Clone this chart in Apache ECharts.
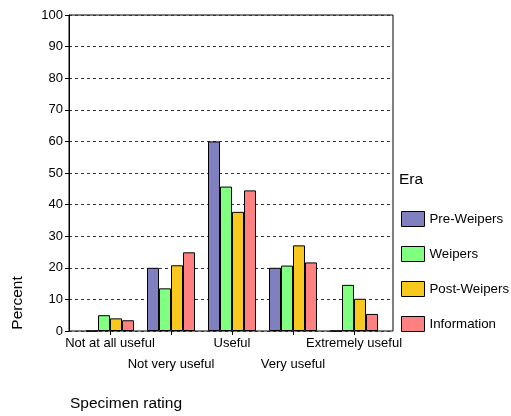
<!DOCTYPE html>
<html><head><meta charset="utf-8">
<script src="https://cdn.jsdelivr.net/npm/echarts@6/dist/echarts.min.js"></script>
<style>html,body{margin:0;padding:0;background:#fff}#c{width:511px;height:416px}</style>
</head><body><div id="c"></div>
<script>
var categories = ['Not at all useful', 'Not very useful', 'Useful', 'Very useful', 'Extremely useful'];
var preWeipers = [0, 20, 60, 20, 0];
var weipers = [5, 13.5, 45.7, 20.7, 14.6];
var postWeipers = [4, 20.8, 37.7, 27.1, 10.2];
var information = [3.4, 24.9, 44.5, 21.7, 5.4];
var yTicks = [0, 10, 20, 30, 40, 50, 60, 70, 80, 90, 100];
var seriesNames = ['Pre-Weipers', 'Weipers', 'Post-Weipers', 'Information'];
var seriesData = [preWeipers, weipers, postWeipers, information];
var colors = ['#8080c0', '#80ff80', '#f9c81e', '#ff8080'];

var FONT = 'Liberation Sans, Arial, sans-serif';
var chart = echarts.init(document.getElementById('c'), null, {renderer: 'canvas'});
chart.setOption({
  animation: false,
  textStyle: {fontFamily: FONT},
  grid: [
    {left: 69, top: 15, width: 324, height: 316, show: true, borderColor: '#000', borderWidth: 1, backgroundColor: 'transparent'},
    {left: 79.5, top: 15, width: 305, height: 316}
  ],
  xAxis: [
    {gridIndex: 0, type: 'value', min: 0, max: 1, axisLine: {show: false}, axisTick: {show: false}, axisLabel: {show: false}, splitLine: {show: false}},
    {gridIndex: 1, type: 'category', data: categories, axisLine: {show: false},
     axisTick: {show: true, alignWithLabel: true, length: 4, lineStyle: {color: '#000'}},
     axisLabel: {interval: 0, margin: 2, lineHeight: 21, fontSize: 13, color: '#000', fontFamily: FONT,
       formatter: function (v, i) { return i % 2 ? '\n' + v : v; }},
     splitLine: {show: false}}
  ],
  yAxis: [
    {gridIndex: 0, type: 'value', min: yTicks[0], max: yTicks[yTicks.length - 1], interval: 10,
     axisLine: {show: true, lineStyle: {color: '#000'}},
     axisTick: {show: true, length: 4, lineStyle: {color: '#000'}},
     axisLabel: {fontSize: 13, color: '#000', margin: 6, fontFamily: FONT},
     splitLine: {show: true, lineStyle: {color: '#333', type: [3, 3], width: 1}}},
    {gridIndex: 1, type: 'value', min: 0, max: 100, show: false}
  ],
  legend: {
    orient: 'vertical', left: 401, top: 211, padding: 0, itemWidth: 23, itemHeight: 15, itemGap: 19,
    icon: 'rect', itemStyle: {borderWidth: 1, borderColor: '#000'},
    textStyle: {fontSize: 13.3, lineHeight: 15, color: '#000', fontFamily: FONT},
    data: seriesNames
  },
  graphic: [
    {type: 'text', left: 399, top: 172, style: {text: 'Era', font: '15.5px ' + FONT, fill: '#000'}},
    {type: 'text', left: 70, top: 396, style: {text: 'Specimen rating', font: '15.5px ' + FONT, fill: '#000'}},
    {type: 'text', x: 18, y: 303, rotation: Math.PI / 2, style: {text: 'Percent', font: '15.5px ' + FONT, fill: '#000', align: 'center', verticalAlign: 'middle'}}
  ],
  series: seriesNames.map(function (n, k) {
    return {
      name: n, type: 'bar', xAxisIndex: 1, yAxisIndex: 1, data: seriesData[k],
      barWidth: 12, barGap: '0%',
      itemStyle: {color: colors[k], borderColor: '#000', borderWidth: 1}
    };
  })
});
</script></body></html>
